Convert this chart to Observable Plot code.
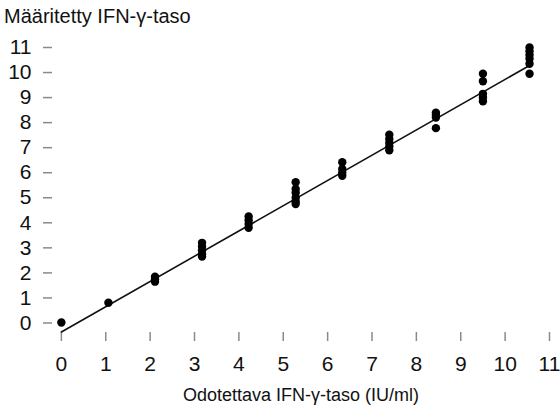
<!DOCTYPE html>
<html>
<head>
<meta charset="utf-8">
<script src="https://cdn.jsdelivr.net/npm/d3@7"></script>
<script src="https://cdn.jsdelivr.net/npm/@observablehq/plot@0.6"></script>
<style>
  body { margin: 0; background: #fff; font-family: "Liberation Sans", Arial, sans-serif; }
  #title { height: 24px; padding-top: 6px; padding-left: 4px; font-size: 20px; line-height: 20px; color: #111; white-space: nowrap; }
  #chart svg [aria-label$="tick label"], #chart svg [aria-label$="tick label"] text { font-size: 21px !important; }
</style>
</head>
<body>
<div id="title">Määritetty IFN-γ-taso</div>
<div id="chart"></div>
<script>
const yTitle = "Määritetty IFN-γ-taso";
const xTitle = "Odotettava IFN-γ-taso (IU/ml)";
const xTicks = [0, 1, 2, 3, 4, 5, 6, 7, 8, 9, 10, 11];
const yTicks = [0, 1, 2, 3, 4, 5, 6, 7, 8, 9, 10, 11];

// expected levels (x) and measured replicates (y)
const expected = [0, 1.06, 2.11, 3.17, 4.22, 5.28, 6.33, 7.39, 8.44, 9.5, 10.55];
const measured = [
  [0.02],
  [0.81],
  [1.85, 1.75, 1.65],
  [3.2, 3.05, 2.9, 2.75, 2.65],
  [4.25, 4.1, 3.95, 3.8],
  [5.62, 5.35, 5.2, 5.0, 4.85, 4.75],
  [6.42, 6.15, 6.0, 5.88],
  [7.52, 7.35, 7.2, 7.05, 6.9],
  [8.4, 8.3, 8.2, 7.78],
  [9.95, 9.65, 9.15, 9.0, 8.85],
  [11.0, 10.85, 10.7, 10.55, 10.35, 9.95]
];

// regression line end points
const fitX = [0, 10.55];
const fitY = [-0.36, 10.28];

const points = expected.flatMap((x, i) => measured[i].map(y => ({x, y})));
const fit = fitX.map((x, i) => ({x, y: fitY[i]}));

const chart = Plot.plot({
  width: 560,
  height: 380,
  marginLeft: 52,
  marginRight: 11,
  marginTop: 17,
  marginBottom: 78,
  style: { fontFamily: "Liberation Sans, Arial, sans-serif", fontSize: "20px", background: "#fff" },
  x: { domain: [-0.2, 11] },
  y: { domain: [-0.38, 11] },
  marks: [
    Plot.axisX({ticks: xTicks, tickSize: 9, tickPadding: 15, line: true, stroke: "#8a8a8a", fill: "#111", fontSize: 21, label: null, strokeWidth: 1.5}),
    Plot.axisY({ticks: yTicks, tickSize: 9, tickPadding: 12, line: true, stroke: "#8a8a8a", fill: "#111", fontSize: 21, label: null, strokeWidth: 1.5}),
    Plot.line(fit, {x: "x", y: "y", stroke: "#111", strokeWidth: 1.6}),
    Plot.dot(points, {x: "x", y: "y", r: 4.2, fill: "#000", stroke: "none"}),
    Plot.text([xTitle], {frameAnchor: "bottom", dy: 63, text: d => d, fontSize: 18, fill: "#111", lineAnchor: "middle"})
  ]
});
document.getElementById("chart").appendChild(chart);
</script>
</body>
</html>
